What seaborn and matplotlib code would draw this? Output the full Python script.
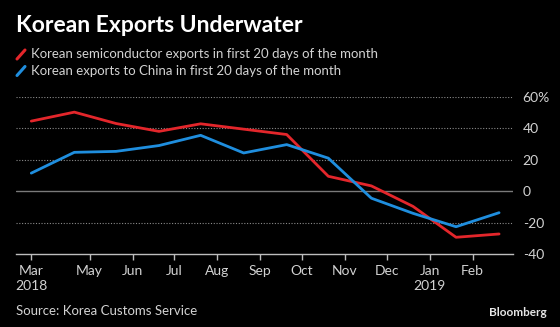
import matplotlib
matplotlib.use("Agg")
import matplotlib.pyplot as plt
from matplotlib.lines import Line2D
import pandas as pd
import seaborn as sns

# Monthly readings (first 20 days of each month), % change year on year
months = ["2018-03-20", "2018-04-20", "2018-05-20", "2018-06-20", "2018-07-20",
          "2018-08-20", "2018-09-20", "2018-10-20", "2018-11-20", "2018-12-20",
          "2019-01-20", "2019-02-20"]
semiconductor = [44.5, 50.2, 43.0, 38.0, 42.8, 39.4, 36.0, 9.5, 3.4, -9.6, -29.2, -27.1]
china = [11.5, 24.7, 25.3, 29.0, 35.5, 24.3, 29.6, 21.0, -4.4, -14.0, -22.5, -13.6]

series_names = ["Korean semiconductor exports in first 20 days of the month",
                "Korean exports to China in first 20 days of the month"]
tick_dates = ["2018-03-20", "2018-05-01", "2018-06-01", "2018-07-01", "2018-08-01",
              "2018-09-01", "2018-10-01", "2018-11-01", "2018-12-01", "2019-01-01",
              "2019-02-01"]
tick_labels = ["Mar\n2018", "May", "Jun", "Jul", "Aug", "Sep", "Oct", "Nov", "Dec",
               "Jan\n2019", "Feb"]
y_ticks = [-40, -20, 0, 20, 40, 60]
y_labels = ["-40", "-20", "0", "20", "40", "60%"]

RED = "#e3262b"
BLUE = "#1f8ede"
TEXT = "#d2d2d2"

df = pd.DataFrame({
    "date": pd.to_datetime(months * 2),
    "value": semiconductor + china,
    "series": [series_names[0]] * len(months) + [series_names[1]] * len(months),
})

sns.set_theme(style="dark")
plt.rcParams["font.family"] = ["Lato", "DejaVu Sans"]

fig = plt.figure(figsize=(5.6, 3.27), dpi=100, facecolor="black")
ax = fig.add_axes([0.0286, 0.2223, 0.8874, 0.482])
ax.set_facecolor("black")

sns.lineplot(data=df, x="date", y="value", hue="series",
             palette=[RED, BLUE], linewidth=2.0, legend=False, ax=ax)

ax.set_xlim(pd.Timestamp("2018-03-09"), pd.Timestamp("2019-03-02"))
ax.set_ylim(-40, 60)

# gridlines: dotted for levels, solid for zero
for v in [20, 40, 60, -20]:
    ax.axhline(v, color="#8a8a8a", linestyle=(0, (1, 1.5)), linewidth=0.8, zorder=0)
ax.axhline(0, color="#7a7a7a", linewidth=1.0, zorder=0)

for s in ["top", "right", "left"]:
    ax.spines[s].set_visible(False)
ax.spines["bottom"].set_color("#bdbdbd")
ax.spines["bottom"].set_linewidth(1.0)

ax.set_xticks(pd.to_datetime(tick_dates))
ax.set_xticklabels(tick_labels, color=TEXT, fontsize=10, linespacing=1.25)
ax.tick_params(axis="x", bottom=True, length=4, width=1, color="#bdbdbd",
               direction="out", pad=4)

ax.yaxis.tick_right()
ax.set_yticks(y_ticks)
ax.set_yticklabels(y_labels, color=TEXT, fontsize=10)
ax.tick_params(axis="y", right=False, left=False, length=0, pad=7)
ax.set_xlabel("")
ax.set_ylabel("")
ax.grid(False)

# title and legend
fig.text(16 / 560, 1 - 26 / 327, "Korean Exports Underwater", color="white",
         fontsize=16.5, fontweight="bold", va="center", ha="left")
for i, (name, col) in enumerate(zip(series_names, [RED, BLUE])):
    yc = 54.5 + i * 16.5
    fig.add_artist(Line2D([17 / 560, 25 / 560],
                          [1 - (yc + 4.5) / 327, 1 - (yc - 4.5) / 327],
                          color=col, linewidth=2.2, transform=fig.transFigure))
    fig.text(31 / 560, 1 - yc / 327, name, color=TEXT, fontsize=9.5,
             va="center", ha="left")

fig.text(16 / 560, 1 - 311 / 327, "Source: Korea Customs Service", color=TEXT,
         fontsize=9.5, va="center", ha="left")
fig.text(547 / 560, 1 - 313 / 327, "Bloomberg", color="#e6e6e6", fontsize=8.5,
         fontweight="bold", va="center", ha="right")

fig.savefig("out.png", dpi=100, facecolor="black")
